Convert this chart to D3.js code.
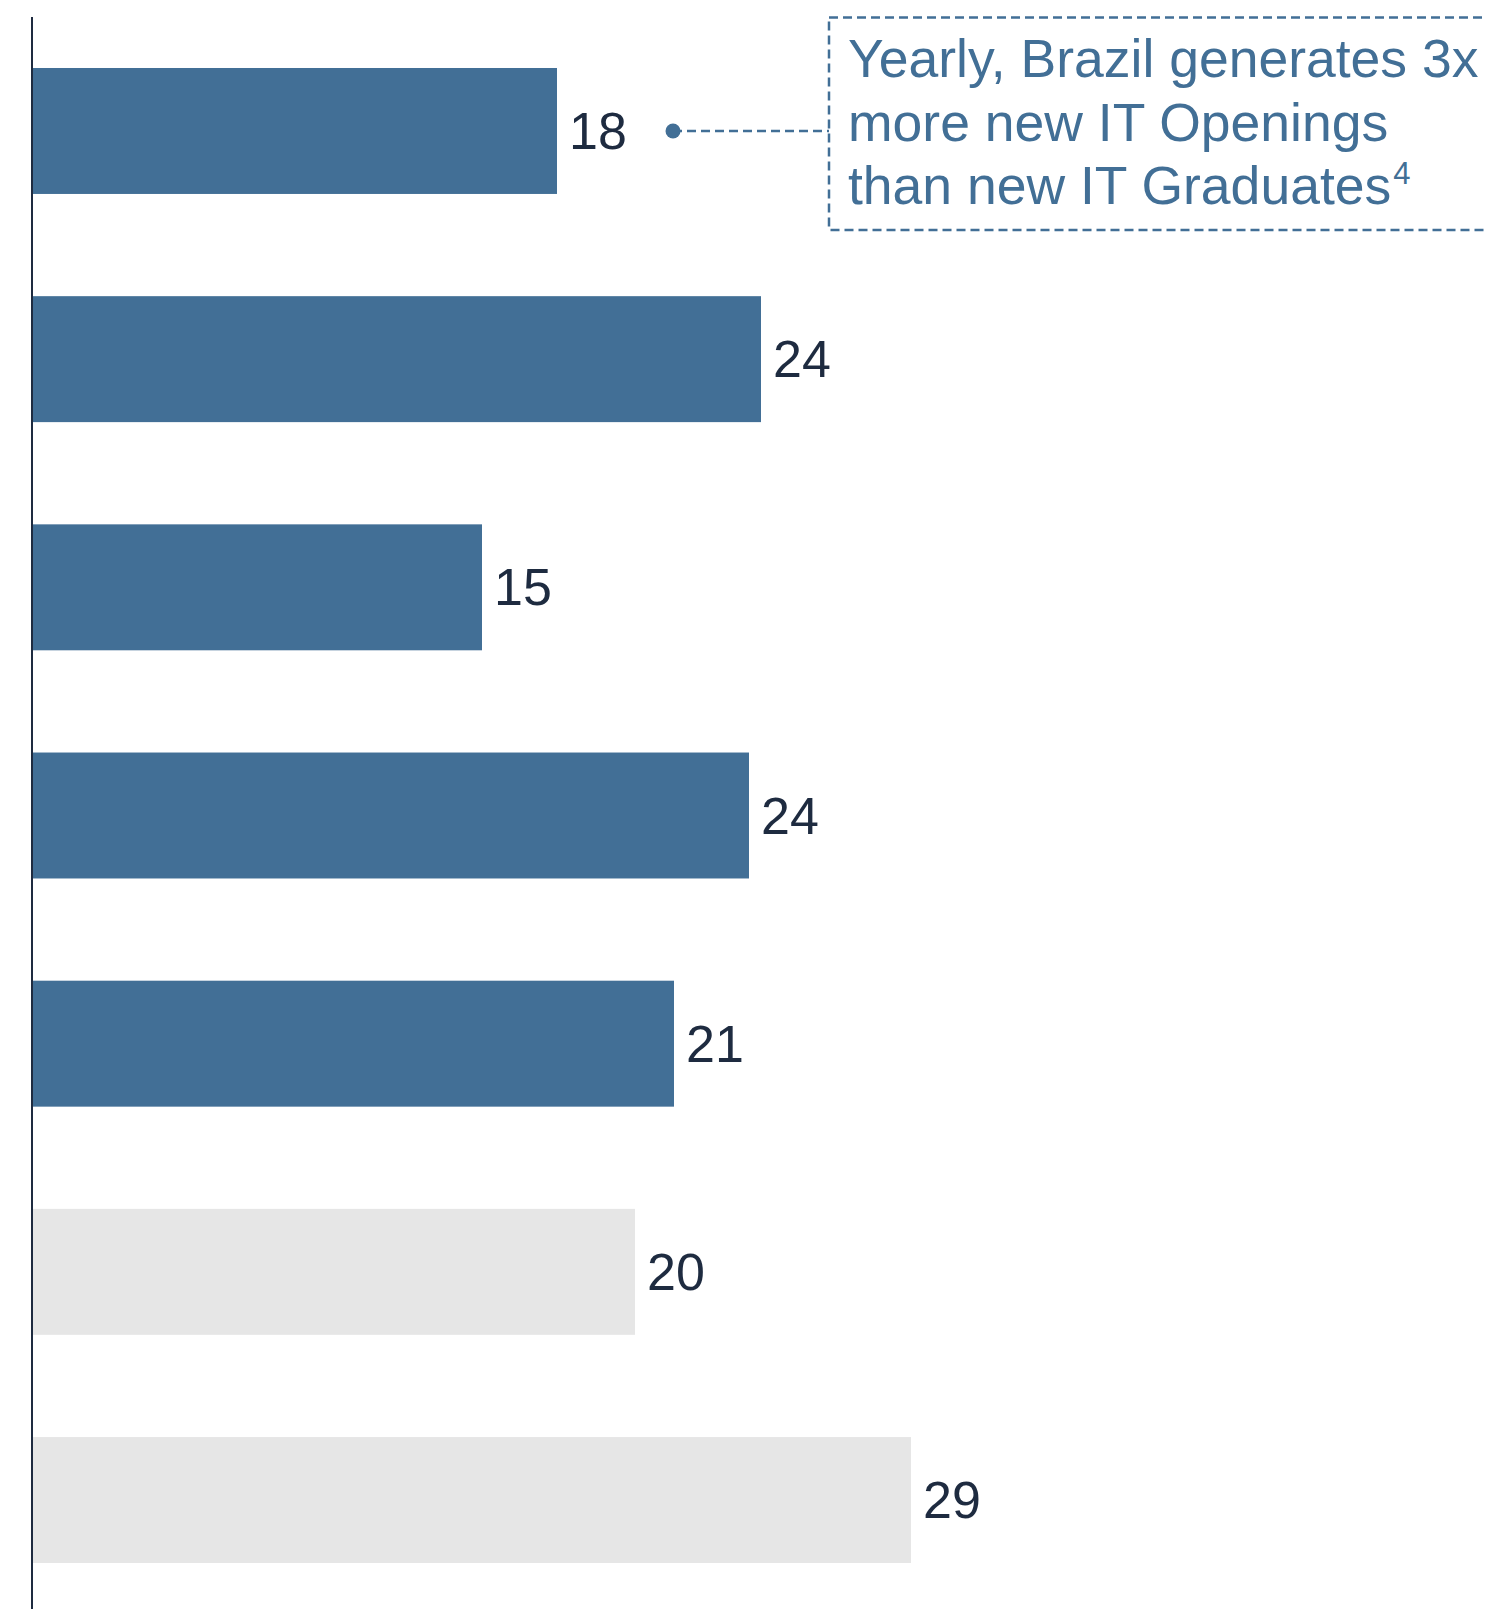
<!DOCTYPE html>
<html>
<head>
<meta charset="utf-8">
<script src="https://cdn.jsdelivr.net/npm/d3@7"></script>
<style>
  body { margin: 0; background: #fff; }
  svg { display: block; }
</style>
</head>
<body>
<div id="chart"></div>
<script>
// rows have no visible category labels in the picture
const categories = ["r1", "r2", "r3", "r4", "r5", "r6", "r7"];
const values = [17.5, 24.3, 15.0, 23.9, 21.4, 20.1, 29.3];
const groups = ["main", "main", "main", "main", "main", "other", "other"];
const noteLines = ["Yearly, Brazil generates 3x", "more new IT Openings", "than new IT Graduates"];
const noteSup = "4";

const width = 1485;
const height = 1609;
const blue = "#426f96";
const grey = "#e6e6e6";
const ink = "#1e2b40";
const font = "'Liberation Sans', Arial, sans-serif";

const svg = d3.select("#chart")
    .append("svg")
    .attr("width", width)
    .attr("height", height);

const x = d3.scaleLinear()
    .domain([0, 40])
    .range([32, 1232]);

const y = d3.scaleBand()
    .domain(categories)
    .range([17, 1614])
    .paddingInner(0.448)
    .paddingOuter(0.2235);

const rows = categories.map((c, i) => ({cat: c, value: values[i], group: groups[i]}));

svg.selectAll("rect.bar")
    .data(rows)
    .join("rect")
    .attr("class", "bar")
    .attr("x", x(0))
    .attr("y", d => y(d.cat))
    .attr("width", d => x(d.value) - x(0))
    .attr("height", y.bandwidth())
    .attr("fill", d => d.group === "main" ? blue : grey);

svg.selectAll("text.val")
    .data(rows)
    .join("text")
    .attr("class", "val")
    .attr("x", d => x(d.value) + 12)
    .attr("y", d => y(d.cat) + y.bandwidth() / 2 + 18)
    .attr("font-family", font)
    .attr("font-size", 52)
    .attr("fill", ink)
    .text(d => Math.round(d.value));

// vertical axis line
svg.append("line")
    .attr("x1", x(0)).attr("x2", x(0))
    .attr("y1", 17).attr("y2", height)
    .attr("stroke", ink)
    .attr("stroke-width", 2);

// annotation box
const boxX = 829, boxTop = 17.5, boxBottom = 230;
svg.append("rect")
    .attr("x", boxX)
    .attr("y", boxTop)
    .attr("width", width + 20 - boxX)
    .attr("height", boxBottom - boxTop)
    .attr("fill", "none")
    .attr("stroke", blue)
    .attr("stroke-width", 2.5)
    .attr("stroke-dasharray", "9,5");

const first = rows[0];
const cy = y(first.cat) + y.bandwidth() / 2;
svg.append("line")
    .attr("x1", 673).attr("x2", boxX)
    .attr("y1", cy).attr("y2", cy)
    .attr("stroke", blue)
    .attr("stroke-width", 2.5)
    .attr("stroke-dasharray", "9,5");
svg.append("circle")
    .attr("cx", 673)
    .attr("cy", cy)
    .attr("r", 7.5)
    .attr("fill", blue);

const note = svg.append("text")
    .attr("font-family", font)
    .attr("font-size", 53.5)
    .attr("fill", blue);
noteLines.forEach((t, i) => {
    note.append("tspan")
        .attr("x", 848)
        .attr("y", 77 + i * 63.5)
        .text(t);
    if (i === noteLines.length - 1) {
        note.append("tspan")
            .attr("dx", 2)
            .attr("dy", -20)
            .attr("font-size", 31)
            .text(noteSup);
    }
});
</script>
</body>
</html>
